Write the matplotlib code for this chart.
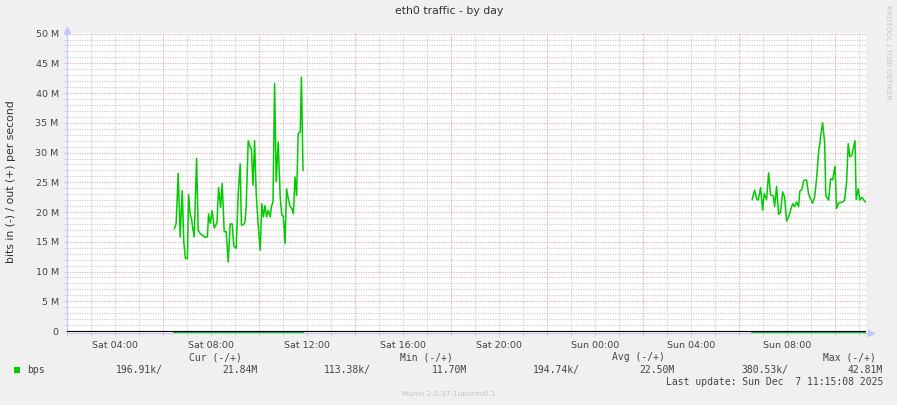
import numpy as np
import matplotlib.pyplot as plt
from matplotlib.ticker import MultipleLocator, FixedLocator
from matplotlib.patches import Rectangle

W, H = 897, 405

# out (+) traffic, Sat morning block: minutes since Sat 00:00 / Mbit/s
out1_min = [388, 391, 393, 398, 403, 408, 412, 416, 421, 424, 428, 431, 434, 438,
            444, 448, 453, 458, 464, 471, 474, 478, 483, 488, 492, 495, 499, 504,
            508, 513, 518, 523, 528, 533, 537, 543, 548, 553, 556, 561, 565, 568,
            573, 578, 581, 585, 589, 593, 598, 603, 607, 611, 615, 619, 623, 628,
            631, 635, 639, 643, 648, 653, 657, 661, 665, 669, 673, 678, 682, 686,
            690, 694, 698, 703, 706, 710]
out1_val = [17.2, 17.6, 18.2, 26.5, 15.8, 23.6, 15.0, 12.2, 12.2, 22.9, 19.5, 19.0, 17.5, 15.8,
            29.0, 16.9, 16.4, 16.1, 15.8, 15.8, 19.7, 18.1, 20.2, 17.3, 17.8, 18.3, 24.1, 20.8,
            24.8, 16.7, 16.7, 11.6, 18.0, 18.0, 14.3, 13.9, 23.1, 28.1, 17.8, 17.9, 18.3, 20.9,
            32.0, 30.9, 30.6, 24.5, 32.0, 23.1, 17.8, 13.6, 21.4, 19.2, 21.1, 19.2, 20.3, 19.2,
            20.9, 21.7, 41.6, 25.1, 31.8, 22.5, 19.5, 19.2, 14.7, 23.9, 22.3, 20.9, 20.6, 19.7,
            25.9, 22.8, 33.2, 33.4, 42.7, 27.0]

# out (+) traffic, Sun morning block
out2_min = [1833, 1839, 1844, 1848, 1854, 1859, 1863, 1869, 1874, 1879, 1886, 1889,
            1894, 1899, 1904, 1909, 1914, 1919, 1924, 1929, 1934, 1939, 1944, 1949,
            1952, 1957, 1962, 1969, 1974, 1979, 1984, 1989, 1994, 1999, 2002, 2005,
            2009, 2014, 2017, 2024, 2029, 2034, 2040, 2044, 2049, 2054, 2059, 2064,
            2069, 2073, 2077, 2082, 2086, 2090, 2093, 2098, 2102, 2107, 2111, 2116]
out2_val = [22.1, 23.7, 22.2, 22.0, 24.1, 20.3, 23.1, 22.1, 26.6, 22.9, 22.7, 20.9,
            24.3, 19.6, 20.0, 23.4, 22.5, 18.5, 19.2, 20.3, 21.4, 20.9, 21.7, 20.9,
            23.5, 23.8, 25.3, 25.4, 23.0, 22.2, 21.5, 22.5, 25.6, 30.1, 31.5, 33.2,
            35.0, 31.8, 22.8, 22.0, 25.6, 25.4, 27.7, 20.6, 21.5, 21.6, 21.7, 22.0,
            25.1, 31.5, 29.3, 29.5, 30.8, 32.0, 22.1, 23.9, 22.0, 22.5, 22.1, 21.7]

# in (-) traffic, drawn below zero
in1_min = [388, 400, 420, 440, 460, 480, 500, 520, 540, 560, 580, 600, 620, 640, 660, 680, 700, 710]
in1_val = [0.19, 0.21, 0.17, 0.20, 0.23, 0.18, 0.20, 0.16, 0.22, 0.19, 0.20, 0.25, 0.18, 0.21, 0.20, 0.19, 0.22, 0.20]
in2_min = [1833, 1850, 1870, 1890, 1910, 1930, 1950, 1970, 1990, 2010, 2030, 2050, 2070, 2090, 2110, 2116]
in2_val = [0.20, 0.18, 0.22, 0.19, 0.21, 0.17, 0.20, 0.24, 0.19, 0.20, 0.18, 0.21, 0.19, 0.22, 0.20, 0.20]

xtick_hours = [4, 8, 12, 16, 20, 24, 28, 32]
xtick_labels = ['Sat 04:00', 'Sat 08:00', 'Sat 12:00', 'Sat 16:00',
                'Sat 20:00', 'Sun 00:00', 'Sun 04:00', 'Sun 08:00']
ytick_vals = [0, 5, 10, 15, 20, 25, 30, 35, 40, 45, 50]
ytick_labels = ['0', '5 M', '10 M', '15 M', '20 M', '25 M', '30 M', '35 M', '40 M', '45 M', '50 M']

legend_heads = ['Cur (-/+)', 'Min (-/+)', 'Avg (-/+)', 'Max (-/+)']
legend_in = ['196.91k/', '113.38k/', '194.74k/', '380.53k/']
legend_out = ['21.84M', '11.70M', '22.50M', '42.81M']

GREEN = '#00CC00'
TXT = '#444444'
MINOR = '#cccccc'
MAJOR = '#e3a8a8'
AXC = '#c4c4ff'

fig = plt.figure(figsize=(W / 100, H / 100), dpi=100, facecolor='#F0F0F0')
ax = fig.add_axes([67 / W, 1 - 332.8 / H, (866 - 67) / W, (332.8 - 33.3) / H])
ax.set_facecolor('white')

ax.set_xlim(2.0, 2.0 + 799 / 24)
ax.set_ylim(-0.3, 50.05)

dots = (0, (1, 1.2))
# grids: y via locators, x drawn hour by hour (red every 4 h from 02:00)
ax.xaxis.set_major_locator(FixedLocator(xtick_hours))
ax.xaxis.set_minor_locator(MultipleLocator(1))
ax.xaxis.remove_overlapping_locs = False
ax.yaxis.set_major_locator(FixedLocator(ytick_vals))
ax.yaxis.set_minor_locator(MultipleLocator(1))
ax.grid(which='minor', axis='y', color=MINOR, ls=dots, lw=0.8)
ax.grid(which='major', axis='y', color=MAJOR, ls=dots, lw=0.8)
for h in range(3, 36):
    red = (h - 2) % 4 == 0
    ax.axvline(h, color=MAJOR if red else MINOR, ls=dots, lw=0.8, zorder=0.6)
ax.set_axisbelow(True)

ax.set_xticklabels(xtick_labels)
ax.set_yticklabels(ytick_labels)
ax.tick_params(which='both', colors=TXT, labelsize=6.8, length=2, pad=4)
ax.tick_params(which='both', color=MINOR)

# data
ax.plot(np.array(out1_min) / 60, out1_val, color=GREEN, lw=1.1, zorder=2)
ax.plot(np.array(out2_min) / 60, out2_val, color=GREEN, lw=1.1, zorder=2)
ax.plot(np.array(in1_min) / 60, -np.array(in1_val), color=GREEN, lw=1.6, zorder=2)
ax.plot(np.array(in2_min) / 60, -np.array(in2_val), color=GREEN, lw=1.6, zorder=2)
ax.axhline(0, color='black', lw=0.8, zorder=3)

for s in ['top', 'right']:
    ax.spines[s].set_visible(False)
for s in ['left', 'bottom']:
    ax.spines[s].set_color(AXC)
    ax.spines[s].set_linewidth(0.8)
ax.plot([0], [1.01], marker='^', ms=4, color=AXC, transform=ax.transAxes, clip_on=False)
ax.plot([1.006], [0], marker='>', ms=4, color=AXC, transform=ax.transAxes, clip_on=False)

# texts
def fx(x):
    return x / W

def fy(y):
    return 1 - y / H

fig.text(fx(449), fy(11), 'eth0 traffic - by day', ha='center', va='center', fontsize=7.8, color='#333333')
fig.text(fx(11), fy(182), 'bits in (-) / out (+) per second', rotation=90,
         ha='center', va='center', fontsize=7.8, color='#333333')
fig.text(fx(888), fy(5), 'RRDTOOL / TOBI OETIKER', rotation=270, ha='center', va='top',
         fontsize=5.3, color='#c4c4c4')

mono = 'DejaVu Sans Mono'
head_x = [189, 400, 612, 823]
for x, t in zip(head_x, legend_heads):
    fig.text(fx(x), fy(357), t, ha='left', va='center', fontsize=7, family=mono, color=TXT)

fig.patches.append(Rectangle((fx(14), fy(373)), 6 / W, 6 / H, transform=fig.transFigure,
                             facecolor=GREEN, edgecolor='none'))
fig.text(fx(27), fy(370), 'bps', ha='left', va='center', fontsize=7, family=mono, color=TXT)
in_x = [163, 371, 580, 788]
out_x = [258, 467, 675, 883]
for x, t in zip(in_x, legend_in):
    fig.text(fx(x), fy(370), t, ha='right', va='center', fontsize=7, family=mono, color=TXT)
for x, t in zip(out_x, legend_out):
    fig.text(fx(x), fy(370), t, ha='right', va='center', fontsize=7, family=mono, color=TXT)
fig.text(fx(883), fy(382), 'Last update: Sun Dec  7 11:15:08 2025', ha='right', va='center',
         fontsize=7, family=mono, color=TXT)
fig.text(fx(449), fy(394), 'Munin 2.0.37-1ubuntu0.1', ha='center', va='center',
         fontsize=5.3, color='#c4c4c4')

fig.savefig('out.png', dpi=100, facecolor=fig.get_facecolor())
